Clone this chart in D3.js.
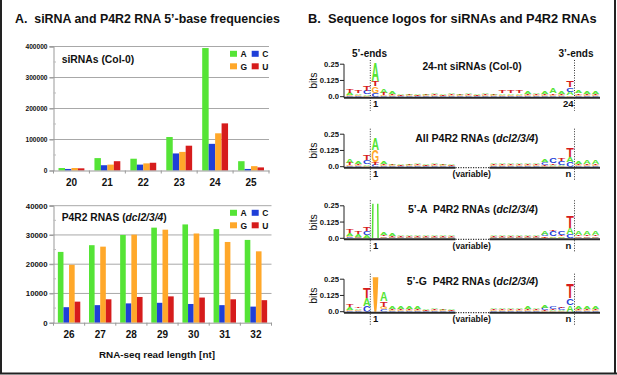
<!DOCTYPE html>
<html><head><meta charset="utf-8">
<script src="https://cdn.jsdelivr.net/npm/d3@7"></script>
<style>
body{margin:0;background:#fff}
svg{display:block;font-family:"Liberation Sans",Arial,Helvetica,sans-serif}
text{white-space:pre}
</style></head><body>
<svg id="c" width="617" height="375"></svg>
<script>
// ---------- Panel A data ----------
const topCategories = ["20","21","22","23","24","25"];
const topA = [8000, 40000, 38000, 108000, 395000, 30000];
const topC = [5000, 17000, 19000, 55000, 86000, 5000];
const topG = [8000, 19000, 23000, 60000, 120000, 14000];
const topU = [7000, 30000, 25000, 80000, 152000, 10000];
const topTicks = [0, 100000, 200000, 300000, 400000];
const topMinorTicks = [50000, 150000, 250000, 350000];

const bottomCategories = ["26","27","28","29","30","31","32"];
const bottomA = [24200, 26500, 30000, 32500, 33600, 32000, 28300];
const bottomC = [5300, 6000, 6600, 6800, 6400, 6000, 5500];
const bottomG = [19800, 26000, 30100, 31800, 30500, 27600, 24400];
const bottomU = [7200, 8000, 8800, 9000, 8600, 8000, 7700];
const bottomTicks = [0, 10000, 20000, 30000, 40000];
const bottomMinorTicks = [5000, 15000, 25000, 35000];

const bases = ["A","C","G","U"];
const baseColors = {A:"#55e436", C:"#1f3fd8", G:"#ffa82a", U:"#d61c1c", T:"#d61c1c"};

// ---------- Panel B data (letter heights in thousandths of a bit, bottom -> top) ----------
const logoTicks = [0, 0.125, 0.25];
const logo1Columns = [
 "C5 G8 A15 T25","C5 G8 A12 T18","G8 A12 C25 T35",
 "C30 G50 T37 A137","C6 G10 T15 A32","C4 G6 T8 A14","C4 G5 T7 A12","C4 G6 T6 A12",
 "C4 G5 T7 A13","C4 G6 T6 A11","C4 G6 T7 A12","C4 G5 T6 A12","C4 G6 T7 A13",
 "C4 G6 T6 A12","C4 G6 T7 A12","C4 G5 T6 A13","C4 G6 T7 A12","C4 G6 T6 A12",
 "C5 G8 A12 T20","C5 G8 A12 T22","C5 G8 A12 T20","C4 G6 T7 A14","C4 G6 T7 A13",
 "C4 G6 T8 A14","C6 G10 T10 A35","C6 G8 T8 A14","G10 A30 C32 T50",
 "C8 G8 T10 A18","C6 G8 T10 A20","C6 G8 T10 A20"];
const logo2Columns = [
 "C4 G8 T14 A25","C4 G6 T10 A14","G6 A12 C30 T35",
 "C15 T20 G90 A90","C5 G8 T10 A22","C4 G6 T6 A12","C4 G5 T7 A12","C4 G6 T6 A13",
 "C4 G6 T7 A12","C4 G5 T6 A12","C4 G6 T7 A12","C4 G6 T6 A11","C4 G5 T7 A12",
 null,null,null,null,
 "C4 G6 T8 A10","C4 G6 T12 A8","C4 G6 T8 A10","C4 G6 T12 A8","C4 G6 T8 A11",
 "C4 G6 T8 A12","G6 T8 C20 A18","G6 A10 T10 C35","G6 A10 C25 T15","C35 A40 T70",
 "C6 G8 T10 A22","C6 G8 T10 A25","C6 G8 T10 A25"];
const logo3Columns = [
 "C10 G6 A22 T25","C6 G6 A18 T14","G6 A22 C25 T28",
 "A2000","C6 G10 T12 A20","C4 G6 T8 A14","C4 G5 T7 A12","C4 G6 T6 A13",
 "C4 G6 T7 A12","C4 G5 T6 A12","C4 G6 T7 A12","C4 G6 T6 A11","C4 G5 T7 A12",
 null,null,null,null,
 "C4 G6 T8 A10","C4 G6 T8 A10","C4 G6 T8 A11","C4 G6 T8 A10","C4 G6 T8 A11",
 "C4 G6 T8 A12","G6 T8 C15 A25","G6 A12 C35 T10","G6 A12 T10 C30","C30 A50 T90",
 "C6 G8 T10 A25","C6 G8 T10 A25","C6 G8 T10 A25"];
const logo4Columns = [
 "C6 G8 A22 T22","C8 G6 A12 T12","C45 A58 T77",
 "G2000","C20 G20 T40 A65","C4 G8 T8 A18","C4 G8 T8 A18","C4 G6 T8 A16",
 "C4 G6 T7 A14","C4 G5 T6 A12","C4 G6 T7 A12","C4 G6 T6 A11","C4 G5 T7 A12",
 null,null,null,null,
 "C4 G6 T8 A10","C4 G6 T8 A10","C4 G6 T8 A11","C6 G8 T8 A12","C8 G8 T6 A14",
 "C6 G8 T10 A12","G6 T8 C15 A16","G6 A10 T8 C20","G6 A10 C15 T12","A52 C52 T105",
 "C6 G8 T10 A20","C6 G8 T10 A22","C6 G8 T10 A20"];

const logoTitles = ["24-nt siRNAs (Col-0)", "All P4R2 RNAs (", "5’-A  P4R2 RNAs (", "5’-G  P4R2 RNAs ("];

// ---------- helpers ----------
const svg = d3.select("#c");
const ink = "#111";
function fit(sel, w){
  const cur = sel.node().getComputedTextLength();
  const fs = parseFloat(sel.attr("font-size"));
  sel.attr("font-size", (fs*w/cur).toFixed(2));
  return sel;
}
function addText(x, y, str, fs, opts={}){
  const t = svg.append("text").attr("x", x).attr("y", y).attr("font-size", fs)
    .attr("font-weight", opts.weight||"bold").attr("fill", ink)
    .attr("text-anchor", opts.anchor||"start").text(str);
  if (opts.w) fit(t, opts.w);
  return t;
}

// frame
svg.append("line").attr("x1",1).attr("x2",1).attr("y1",0).attr("y2",374).attr("stroke","#222").attr("stroke-width",2);
svg.append("line").attr("x1",615).attr("x2",615).attr("y1",0).attr("y2",374).attr("stroke","#222").attr("stroke-width",2);
svg.append("line").attr("x1",0).attr("x2",617).attr("y1",373.5).attr("y2",373.5).attr("stroke","#222").attr("stroke-width",2);

// titles
addText(15, 23.3, "A.  siRNA and P4R2 RNA 5’-base frequencies", 13, {w:265});
addText(308, 23.3, "B.  Sequence logos for siRNAs and P4R2 RNAs", 13, {w:289});

// ---------- bar charts ----------
function drawBars(cfg){
  const g = svg.append("g");
  const x0 = d3.scaleBand().domain(cfg.cats).range([cfg.xLeft, cfg.xRight]).padding(0);
  const bw = x0.bandwidth();
  const x1 = d3.scaleBand().domain(bases).range([bw*0.14, bw*0.86]).padding(0);
  const y = d3.scaleLinear().domain([0, cfg.yMax]).range([cfg.yBottom, cfg.yTop]);
  // gridlines
  g.selectAll(".grid").data(cfg.ticks.filter(d=>d>0)).join("line")
    .attr("x1", cfg.xLeft-4).attr("x2", cfg.xRight)
    .attr("y1", d=>y(d)).attr("y2", d=>y(d)).attr("stroke","#a8a8a8").attr("stroke-width",1);
  // y axis
  const ax = g.append("g").attr("transform", `translate(${cfg.xLeft},0)`)
    .call(d3.axisLeft(y).tickValues(cfg.ticks).tickSize(4).tickPadding(2).tickFormat(d3.format("d")));
  ax.select(".domain").attr("stroke","#999");
  ax.selectAll(".tick line").attr("stroke","#999");
  ax.selectAll(".tick text").attr("font-size", cfg.tickFont).attr("font-weight","bold")
    .attr("fill", ink).attr("font-family", "Liberation Sans, Arial, sans-serif");
  g.selectAll(".minor").data(cfg.minor).join("line")
    .attr("x1", cfg.xLeft).attr("x2", cfg.xLeft+2.5).attr("y1", d=>y(d)).attr("y2", d=>y(d))
    .attr("stroke","#bbb");
  // bars
  const groups = g.selectAll(".grp").data(cfg.cats).join("g")
    .attr("transform", d=>`translate(${x0(d)},0)`);
  groups.selectAll("rect").data((d,i)=>bases.map(b=>({b, v: cfg.series[b][i]}))).join("rect")
    .attr("x", d=>x1(d.b)).attr("width", x1.bandwidth())
    .attr("y", d=>y(d.v)).attr("height", d=>y(0)-y(d.v)).attr("fill", d=>baseColors[d.b]);
  // x axis
  const xa = g.append("g").attr("transform", `translate(0,${y(0)})`)
    .call(d3.axisBottom(x0).tickSize(0).tickPadding(8));
  xa.select(".domain").attr("stroke","#999");
  xa.selectAll(".tick text").attr("font-size", 10).attr("font-weight","bold").attr("fill", ink)
    .attr("font-family", "Liberation Sans, Arial, sans-serif");
  g.selectAll(".xt").data(cfg.cats.concat([null])).join("line")
    .attr("x1", (d,i)=>cfg.xLeft + i*bw).attr("x2", (d,i)=>cfg.xLeft + i*bw)
    .attr("y1", y(0)).attr("y2", y(0)+3).attr("stroke","#999");
  // legend
  const lg = [["A",0,0],["C",1,0],["G",0,1],["U",1,1]];
  lg.forEach(([b,c,r])=>{
    const lx = 230 + c*21.7, ly = cfg.legendY + r*12.5;
    g.append("rect").attr("x", lx).attr("y", ly).attr("width", 7).attr("height", 6).attr("fill", baseColors[b]);
    g.append("text").attr("x", lx+10.5).attr("y", ly+6.3).attr("font-size", 8.5).attr("font-weight","bold")
      .attr("fill", ink).text(b);
  });
}

drawBars({cats: topCategories, series:{A:topA,C:topC,G:topG,U:topU}, yMax:400000,
  yTop:46.5, yBottom:170.5, xLeft:53.5, xRight:269, ticks: topTicks, minor: topMinorTicks,
  tickFont: 6.6, legendY: 50.8});
drawBars({cats: bottomCategories, series:{A:bottomA,C:bottomC,G:bottomG,U:bottomU}, yMax:40000,
  yTop:205.7, yBottom:322.7, xLeft:53.5, xRight:271.5, ticks: bottomTicks, minor: bottomMinorTicks,
  tickFont: 7.8, legendY: 209.8});

addText(61.7, 63.3, "siRNAs (Col-0)", 11, {w:72.6});
{
  const t = addText(61.7, 221, "P4R2 RNAS (", 11);
  t.append("tspan").attr("font-style","italic").text("dcl2/3/4");
  t.append("tspan").text(")");
  fit(t, 105);
}
addText(157, 358.3, "RNA-seq read length [nt]", 10, {anchor:"middle", w:116});

// ---------- sequence logos ----------
const lx = d3.scaleLinear().domain([0, 29]).range([349.9, 595.5]);
const letterW = 7.6, capH = 0.69, LFS = 10;
const logoDefs = [
  {cols: logo1Columns, base: 96.7, titleY: 69.5, titleX: 472, titleW: 99.3, gap:false, end:"24"},
  {cols: logo2Columns, base: 166.7, titleY: 141.5, titleX: 476.7, titleW: 123.3, gap:true, end:"n"},
  {cols: logo3Columns, base: 238.3, titleY: 212.5, titleX: 473, titleW: 130, gap:true, end:"n"},
  {cols: logo4Columns, base: 311.7, titleY: 285, titleX: 472.5, titleW: 131.7, gap:true, end:"n"}
];
addText(369.5, 56.7, "5’-ends", 10, {anchor:"middle"});
addText(576, 56.7, "3’-ends", 10, {anchor:"middle"});

logoDefs.forEach((L, li)=>{
  const y = d3.scaleLinear().domain([0, 0.25]).range([L.base, L.base-32.5]);
  const g = svg.append("g");
  const clipId = "clip"+li;
  svg.append("clipPath").attr("id", clipId).append("rect")
    .attr("x", 344).attr("y", L.base-34.5).attr("width", 258).attr("height", 34.5);
  const lg = g.append("g").attr("clip-path", `url(#${clipId})`);
  L.cols.forEach((col, i)=>{
    if (!col) return;
    let cum = 0;
    col.split(" ").forEach(tok=>{
      const letter = tok[0], bits = +tok.slice(1)/1000;
      const y0 = y(cum), y1 = y(cum+bits);
      cum += bits;
      const h = y0 - y1;
      if (h < 0.3) return;
      lg.append("text").attr("x", 0).attr("y", 0)
        .attr("transform", `translate(${lx(i)-letterW/2},${y0}) scale(1,${h/(capH*LFS)})`)
        .attr("font-size", LFS).attr("font-weight","bold").attr("fill", baseColors[letter])
        .attr("textLength", letterW).attr("lengthAdjust","spacingAndGlyphs").text(letter);
    });
  });
  // baseline
  const segs = L.gap ? [[344,455.5],[489.5,600]] : [[344,600]];
  segs.forEach(([a,b])=> g.append("line").attr("x1",a).attr("x2",b).attr("y1",L.base+1).attr("y2",L.base+1)
    .attr("stroke","#2a2a2a").attr("stroke-width",2));
  if (L.gap) g.append("line").attr("x1",455.5).attr("x2",489.5).attr("y1",L.base+1).attr("y2",L.base+1)
    .attr("stroke","#333").attr("stroke-width",1.2).attr("stroke-dasharray","1.2,1.3");
  // y axis
  g.append("line").attr("x1",344).attr("x2",344).attr("y1",L.base+1).attr("y2",y(0.25)).attr("stroke","#222");
  logoTicks.forEach(t=>{
    g.append("line").attr("x1",340).attr("x2",344).attr("y1",y(t)).attr("y2",y(t)).attr("stroke","#222");
    g.append("text").attr("x",339).attr("y",y(t)).attr("dy","0.35em").attr("text-anchor","end")
      .attr("font-size",7.7).attr("font-weight","bold").attr("fill",ink).text(t===0?"0.0":String(t));
  });
  g.append("text").attr("transform",`translate(317,${L.base-16}) rotate(-90)`).attr("text-anchor","middle")
    .attr("font-size",10.5).attr("fill",ink).text("bits");
  // dotted position markers
  [370.3, 574.5].forEach(xx=> g.append("line").attr("x1",xx).attr("x2",xx)
    .attr("y1", li===0 ? 60 : L.base-38).attr("y2", L.base+14)
    .attr("stroke","#333").attr("stroke-width",1).attr("stroke-dasharray","1,1.5"));
  // position labels
  addText(375.7, L.base+10.5, "1", 9.5, {anchor:"middle"});
  addText(568.3, L.base+10.5, L.end, 9.5, {anchor:"middle"});
  if (L.gap) addText(471.7, L.base+10.5, "(variable)", 8.6, {anchor:"middle"});
  // title
  const t = addText(L.titleX, L.titleY, logoTitles[li], 10, {anchor:"middle"});
  if (li>0){
    t.append("tspan").attr("font-style","italic").text("dcl2/3/4");
    t.append("tspan").text(")");
  }
  fit(t, L.titleW);
});
</script>
</body></html>
